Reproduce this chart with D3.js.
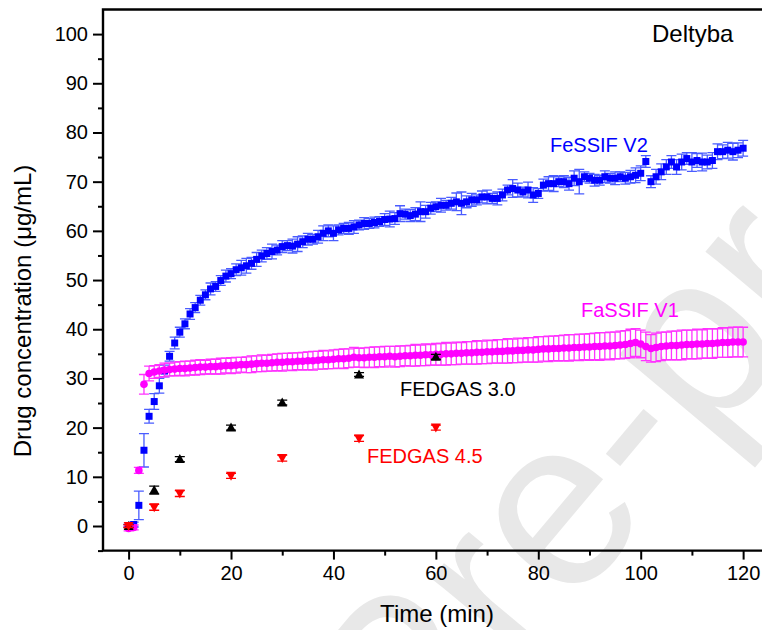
<!DOCTYPE html>
<html>
<head>
<meta charset="utf-8">
<script src="https://cdn.jsdelivr.net/npm/d3@7"></script>
<style>
  body { margin: 0; background: #fff; }
  svg { display: block; font-family: "Liberation Sans", Arial, sans-serif; }
</style>
</head>
<body>
<div id="chart"></div>
<script>
// Dissolution profiles, Deltyba: drug concentration vs time in 4 media

// FeSSIF V2 and FaSSIF V1 sampled every minute, 0..120
const minutes = d3.range(0, 121);

const fessifV2 = [
  0.1, 0.3, 4.2, 15.4, 22.3, 25.3, 28.5, 31.5, 34.5, 37.2,
  39.4, 41.1, 43.1, 44.4, 45.9, 47.0, 48.2, 48.7, 49.9, 50.8,
  51.3, 52.1, 52.5, 52.9, 53.4, 54.2, 54.9, 55.4, 55.8, 56.1,
  56.8, 57.0, 56.9, 57.3, 57.8, 58.3, 58.3, 58.8, 59.5, 60.0,
  59.5, 60.2, 60.5, 60.5, 60.8, 61.2, 61.5, 61.5, 61.7, 61.9,
  62.3, 62.4, 62.5, 63.5, 63.4, 63.1, 63.4, 63.9, 63.9, 64.6,
  64.9, 65.2, 65.2, 65.6, 65.9, 65.6, 65.9, 66.3, 66.3, 66.9,
  66.9, 66.6, 66.6, 67.3, 68.3, 68.6, 68.3, 67.9, 68.3, 67.3,
  67.6, 69.3, 69.6, 69.6, 70.0, 70.0, 69.6, 70.7, 70.0, 71.0,
  70.7, 70.3, 70.3, 71.0, 70.7, 70.7, 71.0, 70.7, 71.0, 71.3,
  71.7, 74.1, 70.0, 71.0, 72.0, 73.0, 74.0, 73.0, 74.0, 74.7,
  74.0, 74.3, 74.0, 74.0, 74.3, 76.1, 76.1, 76.4, 76.1, 76.4,
  76.8
];
const fessifV2Err = [
  0.3, 0.5, 2.9, 3.4, 1.4, 1.6, 1.5, 1.2, 1.0, 1.2,
  1.0, 1.0, 1.1, 1.0, 1.0, 1.0, 1.2, 1.0, 1.0, 1.2,
  1.0, 1.2, 1.5, 1.5, 1.2, 1.4, 1.2, 1.2, 1.5, 1.0,
  1.2, 1.0, 1.4, 1.5, 1.2, 1.2, 1.0, 1.3, 1.5, 1.2,
  1.5, 1.0, 1.0, 1.2, 1.3, 1.0, 1.2, 1.0, 1.1, 1.0,
  1.2, 1.6, 1.2, 1.6, 1.0, 1.2, 1.3, 2.0, 1.3, 1.2,
  1.0, 1.4, 1.0, 1.2, 1.8, 2.3, 1.2, 1.3, 1.0, 1.2,
  1.4, 1.0, 1.3, 1.2, 1.0, 1.8, 1.4, 1.0, 1.6, 1.5,
  1.0, 1.2, 1.4, 1.6, 1.0, 1.2, 1.3, 1.5, 2.5, 1.0,
  1.0, 1.2, 1.0, 1.2, 1.0, 1.3, 1.0, 1.2, 1.3, 1.5,
  1.5, 1.2, 1.2, 1.5, 1.6, 1.5, 1.3, 1.5, 1.6, 1.2,
  1.9, 1.4, 1.8, 1.4, 1.6, 1.6, 1.4, 1.6, 1.7, 1.5,
  1.6
];

const fassifV1 = [
  -0.5, -0.3, 11.3, 28.8, 31.0, 31.3, 31.5, 31.7, 31.8, 31.9,
  32.0, 32.0, 32.1, 32.2, 32.3, 32.3, 32.4, 32.4, 32.5, 32.6,
  32.6, 32.7, 32.8, 32.8, 32.9, 33.0, 33.1, 33.1, 33.2, 33.3,
  33.3, 33.4, 33.4, 33.5, 33.5, 33.6, 33.6, 33.7, 33.8, 33.8,
  33.9, 34.0, 34.0, 34.1, 34.3, 34.2, 34.2, 34.3, 34.3, 34.4,
  34.4, 34.5, 34.4, 34.5, 34.6, 34.6, 34.7, 34.7, 34.8, 34.8,
  34.9, 34.9, 35.0, 35.0, 35.1, 35.1, 35.2, 35.2, 35.3, 35.3,
  35.4, 35.4, 35.5, 35.5, 35.6, 35.6, 35.7, 35.7, 35.8, 35.8,
  35.9, 36.0, 36.0, 36.1, 36.1, 36.2, 36.2, 36.3, 36.3, 36.4,
  36.4, 36.5, 36.5, 36.6, 36.6, 36.7, 36.8, 36.9, 37.1, 37.3,
  37.0, 36.5, 36.1, 36.3, 36.5, 36.6, 36.7, 36.7, 36.8, 36.9,
  36.9, 37.0, 37.0, 37.1, 37.1, 37.2, 37.3, 37.3, 37.4, 37.4,
  37.4
];
const fassifV1Err = [
  0.5, 0.5, 0.6, 2.0, 1.5, 1.3, 1.3, 1.4, 1.3, 1.4,
  1.4, 1.5, 1.4, 1.5, 1.5, 1.4, 1.5, 1.5, 1.6, 1.5,
  1.6, 1.6, 1.5, 1.6, 1.7, 1.6, 1.7, 1.6, 1.7, 1.7,
  1.8, 1.7, 1.8, 1.7, 1.8, 1.8, 1.9, 1.8, 1.9, 1.8,
  1.9, 1.9, 2.0, 1.9, 2.0, 1.9, 2.0, 2.0, 2.1, 2.0,
  2.1, 2.0, 2.1, 2.1, 2.0, 2.1, 2.2, 2.1, 2.2, 2.1,
  2.2, 2.2, 2.3, 2.2, 2.3, 2.2, 2.3, 2.3, 2.4, 2.3,
  2.4, 2.3, 2.4, 2.4, 2.5, 2.4, 2.5, 2.4, 2.5, 2.5,
  2.6, 2.5, 2.6, 2.5, 2.6, 2.6, 2.7, 2.6, 2.7, 2.6,
  2.7, 2.7, 2.8, 2.7, 2.8, 2.7, 2.8, 2.8, 2.9, 2.8,
  2.8, 2.9, 2.8, 2.9, 2.9, 2.8, 2.9, 2.9, 3.0, 2.9,
  2.9, 3.0, 2.9, 3.0, 3.0, 2.9, 3.0, 3.0, 3.0, 3.0,
  3.0
];

// FEDGAS media sampled at fewer time points
const fedgasTimes = [0, 5, 10, 20, 30, 45, 60];
const fedgas30 = [0.0, 7.3, 13.6, 20.0, 25.1, 30.8, 34.4];
const fedgas30Err = [0.3, 0.8, 0.5, 0.5, 0.5, 0.4, 0.5];
const fedgas45 = [0.0, 3.8, 6.6, 10.2, 13.8, 17.8, 20.0];
const fedgas45Err = [0.3, 0.6, 0.6, 0.5, 0.6, 0.6, 0.5];

const xTicks = [0, 20, 40, 60, 80, 100, 120];
const yTicks = [0, 10, 20, 30, 40, 50, 60, 70, 80, 90, 100];

const width = 762, height = 630;
const margin = { left: 103, top: 9.5 };

const x = d3.scaleLinear().domain([-5, 127]).range([margin.left, margin.left + 132 * 5.121]);
const y = d3.scaleLinear().domain([-5, 105]).range([550.6, margin.top]);

const svg = d3.select("#chart").append("svg")
  .attr("width", width)
  .attr("height", height);

// watermark
svg.append("text")
  .attr("transform", "translate(415,795) rotate(-50)")
  .attr("font-size", 240)
  .attr("fill", "#e8e8e8")
  .text("Pre-proof");

// axes
const xAxis = d3.axisBottom(x).tickValues(xTicks).tickSize(9).tickPadding(6);
const xMinor = d3.axisBottom(x).tickValues(d3.range(10, 127, 20)).tickSize(5).tickFormat("");
const yAxis = d3.axisLeft(y).tickValues(yTicks).tickSize(10).tickPadding(5);
const yMinor = d3.axisLeft(y).tickValues(d3.range(-5, 105, 10)).tickSize(5).tickFormat("");

function styleAxis(g) {
  g.select(".domain").remove();
  g.selectAll("line").attr("stroke", "#000").attr("stroke-width", 2);
  g.selectAll("text").attr("font-size", 20).attr("fill", "#000").attr("font-family", "Liberation Sans, Arial, sans-serif");
}

svg.append("g").attr("transform", `translate(0,${y(-5)})`).call(xAxis).call(styleAxis);
svg.append("g").attr("transform", `translate(0,${y(-5)})`).call(xMinor).call(styleAxis);
svg.append("g").attr("transform", `translate(${x(-5)},0)`).call(yAxis).call(styleAxis);
svg.append("g").attr("transform", `translate(${x(-5)},0)`).call(yMinor).call(styleAxis);

// frame
svg.append("path")
  .attr("d", `M${x(127)},${y(105)}H${x(-5)}V${y(-5)}H${x(127)}`)
  .attr("fill", "none")
  .attr("stroke", "#000")
  .attr("stroke-width", 2.4);

// error bars
function errorBars(ts, vals, errs, color, cap, sw) {
  const g = svg.append("g").attr("stroke", color).attr("stroke-width", sw).attr("fill", "none");
  ts.forEach((t, i) => {
    const cx = x(t), lo = y(vals[i] - errs[i]), hi = y(vals[i] + errs[i]);
    g.append("path").attr("d", `M${cx},${lo}V${hi}M${cx - cap},${lo}H${cx + cap}M${cx - cap},${hi}H${cx + cap}`);
  });
}

// FeSSIF V2 - blue squares
errorBars(minutes, fessifV2, fessifV2Err, "#4a5cff", 5, 1.3);
svg.append("g").selectAll("rect")
  .data(minutes)
  .join("rect")
  .attr("x", t => x(t) - 3.5)
  .attr("y", (t, i) => y(fessifV2[i]) - 3.5)
  .attr("width", 7)
  .attr("height", 7)
  .attr("fill", "#0000ff");

// FaSSIF V1 - magenta circles
errorBars(minutes, fassifV1, fassifV1Err, "#ff33ff", 5, 1.3);
svg.append("g").selectAll("circle")
  .data(minutes)
  .join("circle")
  .attr("cx", t => x(t))
  .attr("cy", (t, i) => y(fassifV1[i]))
  .attr("r", 3.8)
  .attr("fill", "#ff00ff");

// FEDGAS 3.0 - black up triangles
errorBars(fedgasTimes, fedgas30, fedgas30Err, "#000", 5, 1.3);
svg.append("g").selectAll("path")
  .data(fedgasTimes)
  .join("path")
  .attr("d", (t, i) => {
    const cx = x(t), cy = y(fedgas30[i]);
    return `M${cx - 5},${cy + 4}L${cx + 5},${cy + 4}L${cx},${cy - 5}Z`;
  })
  .attr("fill", "#000");

// FEDGAS 4.5 - red down triangles
errorBars(fedgasTimes, fedgas45, fedgas45Err, "#ff0000", 5, 1.3);
svg.append("g").selectAll("path")
  .data(fedgasTimes)
  .join("path")
  .attr("d", (t, i) => {
    const cx = x(t), cy = y(fedgas45[i]);
    return `M${cx - 5},${cy - 4}L${cx + 5},${cy - 4}L${cx},${cy + 5}Z`;
  })
  .attr("fill", "#ff0000");

// series labels
const labels = [
  { text: "FeSSIF V2", x: 550, y: 151.5, color: "#0000ff" },
  { text: "FaSSIF V1", x: 581, y: 317, color: "#ff00ff" },
  { text: "FEDGAS 3.0", x: 400, y: 396, color: "#000" },
  { text: "FEDGAS 4.5", x: 367, y: 463, color: "#ff0000" }
];
svg.append("g").selectAll("text")
  .data(labels)
  .join("text")
  .attr("x", d => d.x)
  .attr("y", d => d.y)
  .attr("fill", d => d.color)
  .attr("font-size", 20)
  .text(d => d.text);

svg.append("text")
  .attr("x", 652)
  .attr("y", 42)
  .attr("font-size", 24)
  .text("Deltyba");

// axis titles
svg.append("text")
  .attr("x", 437)
  .attr("y", 622)
  .attr("text-anchor", "middle")
  .attr("font-size", 24)
  .text("Time (min)");

svg.append("text")
  .attr("transform", "translate(31,311) rotate(-90)")
  .attr("text-anchor", "middle")
  .attr("font-size", 24)
  .text("Drug concentration (\u03bcg/mL)");
</script>
</body>
</html>
